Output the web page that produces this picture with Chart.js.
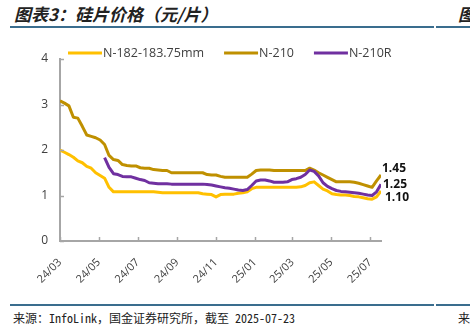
<!DOCTYPE html>
<html>
<head>
<meta charset="utf-8">
<script src="https://cdn.jsdelivr.net/npm/chart.js@4.4.1/dist/chart.umd.min.js"></script>
<style>
  html, body { margin: 0; padding: 0; background: #fff; }
  body { width: 470px; height: 331px; position: relative; overflow: hidden; font-family: "Noto Sans CJK SC", sans-serif; }
  .title { position: absolute; top: 4px; font-size: 17px; line-height: 20px; font-weight: bold; font-style: italic; color: #222; white-space: nowrap; }
  .rule { position: absolute; height: 2px; background: #3a6d8e; }
  .source { position: absolute; top: 310px; font-size: 12px; line-height: 16px; color: #222; white-space: nowrap;
            font-family: "Noto Sans Mono CJK SC", "Noto Sans CJK SC", monospace; }
  #wrap { position: absolute; left: 0; top: 35px; width: 470px; height: 262px; }
</style>
</head>
<body>
<div class="title" style="left:14px">图表3：硅片价格（元/片）</div>
<div class="title" style="left:458px">图表4：</div>
<div class="rule" style="left:10px; top:26px; width:424px"></div>
<div class="rule" style="left:436px; top:26px; width:34px"></div>
<div id="wrap"><canvas id="priceChart" width="470" height="262"></canvas></div>
<div class="rule" style="left:10px; top:304px; width:424px"></div>
<div class="rule" style="left:436px; top:304px; width:34px"></div>
<div class="source" style="left:13px">来源：InfoLink，国金证券研究所，截至 2025-07-23</div>
<div class="source" style="left:458px">来源：</div>

<script>
// weekly price dates (InfoLink)
const weekDates = [
  '2024-03-06','2024-03-13','2024-03-20','2024-03-27','2024-04-03','2024-04-10','2024-04-17','2024-04-24',
  '2024-05-01','2024-05-08','2024-05-15','2024-05-22','2024-05-29','2024-06-05','2024-06-12','2024-06-19',
  '2024-06-26','2024-07-03','2024-07-10','2024-07-17','2024-07-24','2024-07-31','2024-08-07','2024-08-14',
  '2024-08-21','2024-08-28','2024-09-04','2024-09-11','2024-09-18','2024-09-25','2024-10-02','2024-10-09',
  '2024-10-16','2024-10-23','2024-10-30','2024-11-06','2024-11-13','2024-11-20','2024-11-27','2024-12-04',
  '2024-12-11','2024-12-18','2024-12-25','2025-01-01','2025-01-08','2025-01-15','2025-01-22','2025-01-29',
  '2025-02-05','2025-02-12','2025-02-19','2025-02-26','2025-03-05','2025-03-12','2025-03-19','2025-03-26',
  '2025-04-02','2025-04-09','2025-04-16','2025-04-23','2025-04-30','2025-05-07','2025-05-14','2025-05-21',
  '2025-05-28','2025-06-04','2025-06-11','2025-06-18','2025-06-25','2025-07-02','2025-07-09','2025-07-16',
  '2025-07-23'
];

const xTickLabels = ['24/03','24/05','24/07','24/09','24/11','25/01','25/03','25/05','25/07'];
const yTicks = [0, 1, 2, 3, 4];

const seriesNames = ['N-182-183.75mm', 'N-210', 'N-210R'];
const seriesColors = ['#FFC000', '#BF9000', '#7030A0'];

const n182 = [
  2.00, 1.95, 1.90, 1.84, 1.76, 1.72, 1.64, 1.60, 1.50, 1.44, 1.38, 1.18, 1.08,
  1.08, 1.08, 1.08, 1.08, 1.08, 1.08, 1.08, 1.08, 1.08,
  1.07,
  1.06, 1.06, 1.06, 1.06, 1.06, 1.06, 1.06, 1.06, 1.06,
  1.04, 1.03, 1.02, 0.97, 1.02, 1.03, 1.03, 1.03, 1.05, 1.06, 1.08, 1.15, 1.18,
  1.18, 1.18, 1.18, 1.18, 1.18, 1.18, 1.18, 1.18, 1.18, 1.19,
  1.22, 1.28, 1.30, 1.22, 1.14, 1.10, 1.04, 1.02, 1.01, 1.01, 1.00, 0.98, 0.97, 0.95, 0.93, 0.92, 0.97, 1.10
];

const n210 = [
  3.08, 3.03, 2.97, 2.72, 2.70, 2.52, 2.33, 2.30, 2.27, 2.22, 2.12, 1.88, 1.79,
  1.77, 1.68, 1.66, 1.65, 1.65, 1.61, 1.60, 1.60, 1.57, 1.56, 1.55, 1.55, 1.50,
  1.50, 1.50, 1.50, 1.50, 1.50, 1.50, 1.50,
  1.46, 1.45, 1.45, 1.42,
  1.40, 1.40, 1.40, 1.40, 1.40, 1.40,
  1.47, 1.55,
  1.56, 1.56, 1.56, 1.55, 1.55, 1.55, 1.55, 1.55, 1.55, 1.55, 1.55,
  1.60, 1.56, 1.50, 1.45, 1.40, 1.35, 1.30, 1.30, 1.30, 1.30, 1.29, 1.27, 1.24, 1.21, 1.18, 1.32, 1.45
];

const n210r = [
  null, null, null, null, null, null, null, null, null, null,
  1.83, 1.62, 1.48, 1.46, 1.42, 1.41, 1.41, 1.38, 1.35, 1.33, 1.28, 1.27, 1.26,
  1.26, 1.26, 1.25, 1.25, 1.25, 1.25, 1.25, 1.25, 1.25, 1.25,
  1.24, 1.23, 1.21, 1.19, 1.17, 1.16, 1.14, 1.12, 1.11, 1.13, 1.22, 1.32,
  1.34, 1.34, 1.32, 1.29, 1.29, 1.29, 1.30, 1.35, 1.37, 1.40, 1.46, 1.56,
  1.53, 1.43, 1.28, 1.20, 1.15, 1.11, 1.09, 1.08, 1.07, 1.06, 1.05, 1.03, 1.01, 1.00, 1.08, 1.25
];

const endLabels = ['1.10', '1.45', '1.25'];

const axisColor = '#a6a6a6';
const textColor = '#404040';

// dates -> day numbers, so the x axis is a real time line
const toDay = s => Date.UTC(+s.slice(0, 4), +s.slice(5, 7) - 1, +s.slice(8, 10)) / 86400000;
const xDays = weekDates.map(toDay);
const startDom = weekDates[0].slice(8, 10);
const tickDays = xTickLabels.map(l => toDay('20' + l.slice(0, 2) + '-' + l.slice(3, 5) + '-' + startDom));
const tickLabelOf = {};
tickDays.forEach((d, i) => { tickLabelOf[d] = xTickLabels[i]; });

const toPoints = arr => arr.map((v, i) => ({ x: xDays[i], y: v }));

const endLabelOffsets = [{ dx: 4, dy: 7 }, { dx: 1, dy: -6 }, { dx: 2, dy: 0 }];

const extras = {
  id: 'extras',
  afterDatasetsDraw(chart) {
    const ctx = chart.ctx;
    ctx.save();
    ctx.font = 'bold 12px "Open Sans", sans-serif';
    ctx.fillStyle = '#111';
    ctx.textBaseline = 'middle';
    ctx.textAlign = 'left';
    chart.data.datasets.forEach((ds, i) => {
      const meta = chart.getDatasetMeta(i);
      const last = meta.data[meta.data.length - 1];
      const off = endLabelOffsets[i];
      ctx.fillText(endLabels[i], last.x + off.dx, last.y + off.dy);
    });
    ctx.restore();
  },
  afterDraw(chart) {
    const { ctx, chartArea, scales } = chart;
    ctx.save();
    // inner tick marks
    ctx.strokeStyle = axisColor;
    ctx.lineWidth = 1.5;
    ctx.beginPath();
    scales.x.ticks.forEach(t => {
      const px = Math.round(scales.x.getPixelForValue(t.value)) + 0.5;
      ctx.moveTo(px, chartArea.bottom);
      ctx.lineTo(px, chartArea.bottom - 4);
    });
    scales.y.ticks.forEach(t => {
      const py = Math.round(scales.y.getPixelForValue(t.value)) + 0.5;
      ctx.moveTo(chartArea.left, py);
      ctx.lineTo(chartArea.left + 4, py);
    });
    ctx.stroke();

    // legend
    ctx.font = '12.5px "Open Sans", sans-serif';
    ctx.textBaseline = 'middle';
    ctx.textAlign = 'left';
    const ly = chartArea.top - 6;
    let lx = chartArea.left + 8;
    seriesNames.forEach((name, i) => {
      ctx.strokeStyle = seriesColors[i];
      ctx.lineWidth = 3;
      ctx.beginPath();
      ctx.moveTo(lx, ly);
      ctx.lineTo(lx + 34, ly);
      ctx.stroke();
      ctx.fillStyle = textColor;
      ctx.fillText(name, lx + 35, ly);
      lx += 35 + ctx.measureText(name).width + 20;
    });
    ctx.restore();
  }
};

const ctx = document.getElementById('priceChart').getContext('2d');
new Chart(ctx, {
  type: 'line',
  data: {
    datasets: [
      { label: seriesNames[0], data: toPoints(n182), borderColor: seriesColors[0], order: 2 },
      { label: seriesNames[1], data: toPoints(n210), borderColor: seriesColors[1], order: 1 },
      { label: seriesNames[2], data: toPoints(n210r), borderColor: seriesColors[2], order: 0 }
    ]
  },
  options: {
    responsive: false,
    animation: false,
    devicePixelRatio: 1,
    layout: { padding: { left: 0, right: 89, top: 24, bottom: 0 } },
    elements: {
      line: { borderWidth: 3, tension: 0, borderJoinStyle: 'round', fill: false },
      point: { radius: 0, hoverRadius: 0 }
    },
    scales: {
      x: {
        type: 'linear',
        min: xDays[0],
        max: xDays[xDays.length - 1],
        border: { color: axisColor, width: 2 },
        grid: { display: false, drawTicks: false },
        ticks: {
          autoSkip: false,
          maxRotation: 45,
          minRotation: 45,
          padding: 15,
          color: textColor,
          font: { family: '"Open Sans", sans-serif', size: 11 },
          callback: v => tickLabelOf[v] || ''
        },
        afterBuildTicks: s => { s.ticks = tickDays.map(v => ({ value: v })); },
        afterFit: s => { s.height = 56; }
      },
      y: {
        min: 0,
        max: 4,
        border: { color: axisColor, width: 2 },
        grid: { display: false, drawTicks: false },
        ticks: {
          stepSize: 1,
          padding: 12,
          color: textColor,
          font: { family: '"Open Sans", sans-serif', size: 12 }
        },
        afterBuildTicks: s => { s.ticks = yTicks.map(v => ({ value: v })); },
        afterFit: s => { s.width = 60; }
      }
    },
    plugins: {
      legend: { display: false },
      tooltip: { enabled: false }
    }
  },
  plugins: [extras]
});
</script>
</body>
</html>
